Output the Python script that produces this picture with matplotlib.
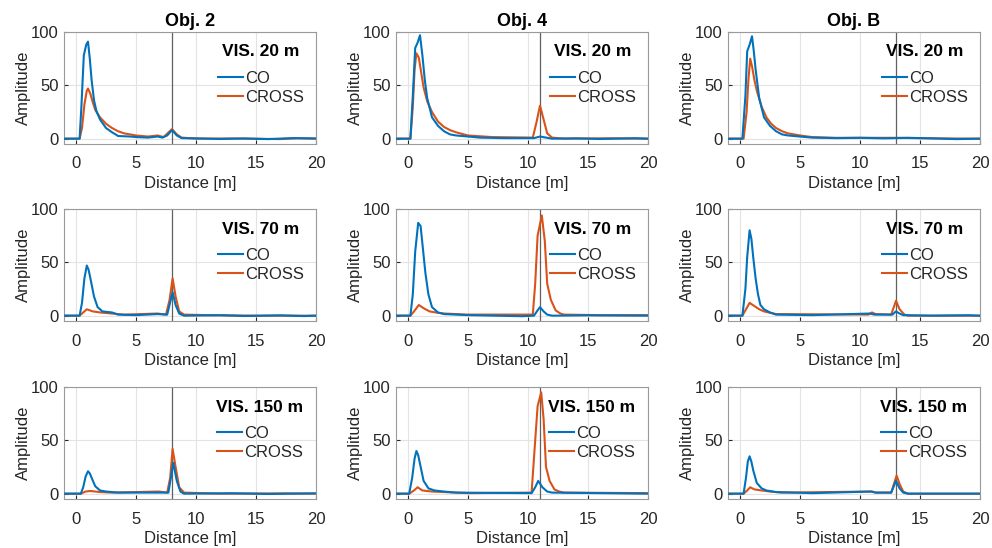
import numpy as np
import matplotlib
matplotlib.use("Agg")
import matplotlib.pyplot as plt

plt.rcParams['font.family'] = ['Liberation Sans', 'DejaVu Sans']

# === data: (distance [m], amplitude) ===
objects = ["Obj. 2", "Obj. 4", "Obj. B"]
target_dist = [8, 11, 13]
vis_labels = ["VIS. 20 m", "VIS. 70 m", "VIS. 150 m"]

co_o2_v20 = [(-1, 0), (0.3, 0), (0.45, 30), (0.65, 78), (0.85, 88), (1.0, 91), (1.15, 75), (1.3, 55), (1.5, 36),
             (1.7, 26), (2.0, 18), (2.5, 10), (3.0, 6), (3.3, 4), (3.5, 2.5), (4.5, 2), (5.0, 1.5), (6.0, 1),
             (6.8, 2), (7.2, 1), (7.6, 3), (8.0, 8), (8.4, 3), (8.8, 0.5), (10, 0.3), (12, -0.3), (14, 0.2),
             (16, -0.4), (18, 0.5), (20, 0.2)]
cr_o2_v20 = [(-1, 0), (0.3, 0), (0.5, 10), (0.7, 32), (0.9, 45), (1.0, 47), (1.2, 42), (1.4, 34), (1.6, 27),
             (2.0, 20), (2.5, 14), (3.0, 10), (3.5, 7), (4.0, 5), (5.0, 3), (6.0, 2), (6.8, 3), (7.3, 1.5),
             (8.0, 9), (8.4, 4), (8.8, 1), (10, 0), (13, 0.2), (17, -0.4), (18.5, 0.4), (20, 0)]

co_o4_v20 = [(-1, 0), (0.2, 0), (0.4, 40), (0.6, 85), (0.8, 90), (1.0, 97), (1.2, 78), (1.4, 55), (1.6, 38),
             (2.0, 20), (2.5, 12), (3.0, 7), (3.5, 4), (4.0, 3), (5.0, 2), (6.0, 1), (8.0, 0.5), (10.5, 0.5),
             (11.0, 2), (11.5, 1), (12.0, 0), (14, 0.3), (16, -0.3), (19, 0.4), (20, 0)]
cr_o4_v20 = [(-1, 0), (0.2, 0), (0.4, 30), (0.55, 65), (0.7, 80), (0.9, 76), (1.1, 62), (1.3, 48), (1.6, 35),
             (2.0, 25), (2.5, 16), (3.0, 11), (3.5, 8), (4.0, 6), (5.0, 3), (7.0, 1.5), (10.4, 1), (10.7, 15),
             (11.0, 31), (11.3, 18), (11.6, 5), (12.0, 1), (13, 0), (17, 0.4), (20, 0)]

co_ob_v20 = [(-1, 0), (0.2, 0), (0.45, 40), (0.6, 82), (0.8, 88), (1.0, 96), (1.15, 82), (1.3, 65), (1.6, 38),
             (2.0, 20), (2.5, 12), (3.0, 7), (3.5, 4), (4.0, 3), (5.0, 2), (6.0, 1), (8, 0.5), (10, 0.8),
             (12, 0.3), (14, 0.8), (16, 0.3), (18, -0.4), (20, 0)]
cr_ob_v20 = [(-1, 0), (0.3, 0), (0.55, 25), (0.7, 55), (0.85, 75), (1.0, 68), (1.2, 55), (1.4, 45), (1.8, 30),
             (2.2, 20), (2.6, 14), (3.0, 10), (3.5, 7), (4.0, 5), (5.0, 3), (6.0, 1.5), (8.0, 0.8), (11, 0.8),
             (13, 0.8), (16, 0.3), (20, 0)]

co_o2_v70 = [(-1, 0), (0.3, 0), (0.5, 12), (0.7, 35), (0.9, 47), (1.05, 43), (1.2, 35), (1.5, 18), (1.8, 8),
             (2.2, 4), (3.0, 3), (3.5, 1), (5, 0.5), (6.8, 1.5), (7.6, 1), (7.9, 15), (8.05, 22), (8.3, 10),
             (8.6, 2), (9.0, 0), (12, 0.4), (14, -0.3), (17, 0.3), (19, -0.4), (20, 0)]
cr_o2_v70 = [(-1, 0), (0.3, 0), (0.6, 3), (0.9, 6), (1.4, 4), (2.0, 3), (3.0, 2), (4.0, 1), (6.8, 2), (7.5, 1),
             (7.8, 15), (8.05, 35), (8.3, 18), (8.6, 4), (9.0, 1), (11, 0.5), (15, 0), (20, 0)]

co_o4_v70 = [(-1, 0), (0.2, 0), (0.4, 20), (0.6, 60), (0.85, 87), (1.05, 84), (1.25, 62), (1.45, 40),
             (1.7, 20), (2.0, 8), (2.5, 3), (3.0, 1.5), (5, 0.5), (9.5, -0.5), (10.5, 0), (10.8, 5), (11.0, 8),
             (11.3, 4), (11.6, 1), (12.0, 0), (15, 0.3), (20, 0)]
cr_o4_v70 = [(-1, 0), (0.2, 0), (0.5, 4), (0.9, 10), (1.3, 7), (1.8, 4), (2.3, 3), (3.0, 2), (5.0, 1), (10.4, 1),
             (10.6, 30), (10.8, 75), (11.15, 94), (11.4, 70), (11.6, 30), (11.9, 15), (12.3, 5), (12.7, 2),
             (13.0, 1), (16, 0.5), (20, 0.5)]

co_ob_v70 = [(-1, 0), (0.2, 0), (0.45, 25), (0.6, 55), (0.8, 80), (0.95, 72), (1.1, 55), (1.3, 35), (1.5, 20),
             (1.7, 10), (2.0, 6), (2.5, 3), (3.0, 1), (6, 0.5), (10.8, 2), (11.2, 1), (12.7, 1), (13.0, 4),
             (13.3, 2), (13.6, 0.5), (16, 0), (19, 0.4), (20, 0)]
cr_ob_v70 = [(-1, 0), (0.2, 0), (0.5, 6), (0.8, 12), (1.2, 9), (1.6, 6), (2.0, 4), (3.0, 1.5), (10.7, 1),
             (11.0, 3), (11.3, 1.5), (12.6, 1), (13.0, 14), (13.3, 6), (13.7, 1), (14.0, 0), (20, 0)]

co_o2_v150 = [(-1, 0), (0.4, 0), (0.6, 6), (0.8, 16), (1.0, 21), (1.15, 19), (1.3, 15), (1.6, 7), (2.0, 3),
              (2.5, 2), (3.5, 1), (7.0, 1), (7.7, 1), (7.95, 18), (8.1, 29), (8.4, 12), (8.7, 2), (9.0, 0),
              (13, 0.4), (16, -0.3), (20, 0.3)]
cr_o2_v150 = [(-1, 0), (0.4, 0), (0.8, 2), (1.2, 2.5), (2.0, 1.5), (3.0, 1), (6.9, 2), (7.6, 1), (7.85, 15),
              (8.05, 42), (8.3, 25), (8.6, 6), (9.0, 1), (12, 0), (17.5, 0.3), (20, 0)]

co_o4_v150 = [(-1, 0), (0.1, 0), (0.35, 15), (0.55, 33), (0.7, 40), (0.85, 36), (1.0, 28), (1.3, 12),
              (1.7, 5), (2.2, 3), (3.0, 2), (4.0, 1), (10.3, 0.5), (10.6, 6), (10.85, 12), (11.2, 6), (11.6, 2),
              (12.0, 1), (20, 0)]
cr_o4_v150 = [(-1, 0), (0.1, 0), (0.5, 3), (0.8, 6), (1.2, 3), (2.0, 2), (3.0, 1.5), (5.0, 0.5), (10.3, 1),
              (10.6, 50), (10.8, 82), (11.1, 95), (11.3, 70), (11.5, 25), (11.8, 12), (12.2, 4), (12.6, 2),
              (13.0, 1), (20, 0.5)]

co_ob_v150 = [(-1, 0), (0.3, 0), (0.5, 15), (0.65, 30), (0.8, 35), (0.95, 30), (1.1, 22), (1.4, 10), (1.8, 5),
              (2.2, 3), (3.0, 1.5), (6, 0.5), (11.0, 2), (11.3, 1), (12.6, 1), (13.0, 12), (13.3, 5), (13.6, 1),
              (14.0, 0), (20, 0)]
cr_ob_v150 = [(-1, 0), (0.3, 0), (0.6, 3), (0.85, 6), (1.2, 4), (1.8, 3), (2.5, 2), (3.5, 1), (10.9, 2),
              (11.3, 1), (12.6, 1), (13.05, 17), (13.3, 9), (13.6, 2), (14.0, 0), (20, 0)]

co_curves = [[co_o2_v20, co_o4_v20, co_ob_v20],
             [co_o2_v70, co_o4_v70, co_ob_v70],
             [co_o2_v150, co_o4_v150, co_ob_v150]]
cr_curves = [[cr_o2_v20, cr_o4_v20, cr_ob_v20],
             [cr_o2_v70, cr_o4_v70, cr_ob_v70],
             [cr_o2_v150, cr_o4_v150, cr_ob_v150]]

# === layout (pixels of a 992x548 canvas) ===
W, H = 992, 548
col_left = [64, 396, 728]
row_top = [32, 209, 387]
ax_w, ax_h = 252, 112

blue = "#0072BD"
orange = "#D95319"
txt = "#262626"

fig = plt.figure(figsize=(W / 100, H / 100), dpi=100)

for r in range(3):
    for c in range(3):
        ax = fig.add_axes([col_left[c] / W, (H - row_top[r] - ax_h) / H, ax_w / W, ax_h / H])
        co = np.array(co_curves[r][c])
        cr = np.array(cr_curves[r][c])
        ax.axvline(target_dist[c], color="#606060", lw=0.9, zorder=1)
        ax.plot(co[:, 0], co[:, 1], color=blue, lw=1.5, label="CO", zorder=3)
        ax.plot(cr[:, 0], cr[:, 1], color=orange, lw=1.5, label="CROSS", zorder=2)
        ax.set_xlim(-1, 20)
        ax.set_ylim(-5, 100)
        ax.set_xticks([0, 5, 10, 15, 20])
        ax.set_yticks([0, 50, 100])
        ax.grid(True, color="#e3e3e3", lw=0.8)
        ax.set_axisbelow(True)
        ax.tick_params(direction="in", length=3, labelsize=12, colors=txt)
        ax.tick_params(axis="x", pad=9)
        ax.tick_params(axis="y", pad=4)
        for sp in ax.spines.values():
            sp.set_color("#9a9a9a")
            sp.set_linewidth(0.8)
        ax.set_xlabel("Distance [m]", fontsize=12, color=txt, labelpad=3)
        ax.set_ylabel("Amplitude", fontsize=12, color=txt, labelpad=0)
        if r == 0:
            ax.set_title(objects[c], fontsize=13, fontweight="bold", color="black", pad=4)
        leg = ax.legend(title=vis_labels[r], loc="upper right", frameon=False, fontsize=12,
                        handlelength=1.5, handletextpad=0.1, borderaxespad=0.3, labelspacing=0.28,
                        borderpad=0.45)
        leg.get_title().set_fontweight("bold")
        leg.get_title().set_fontsize(12.5)
        leg._legend_box.sep = 8
        for t in leg.get_texts():
            t.set_color(txt)

fig.savefig("out.png", dpi=100)
